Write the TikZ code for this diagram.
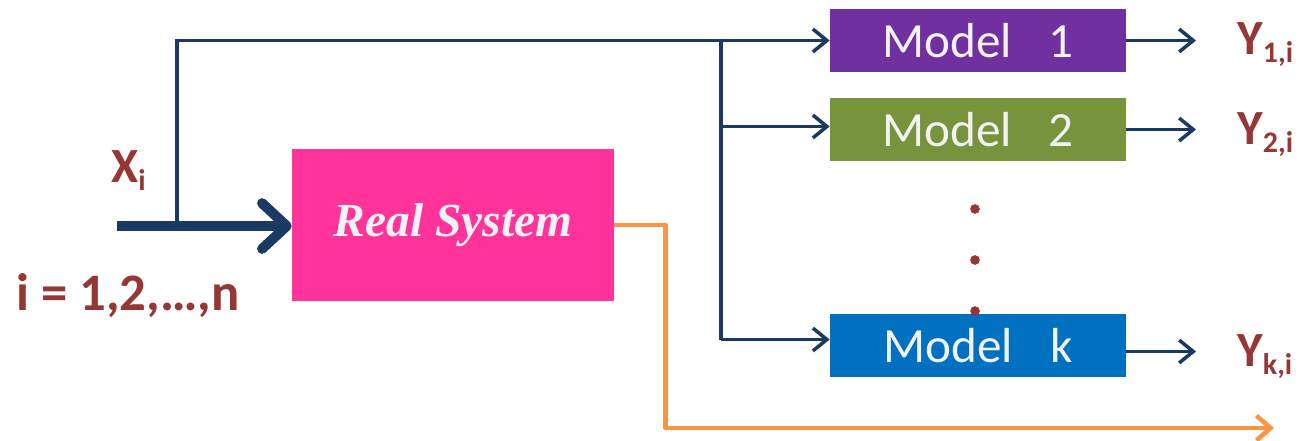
\documentclass[tikz,border=0pt]{standalone}
\usepackage{fontspec}
\setmainfont{Carlito}
\newfontfamily\rsfont{Liberation Serif}
\usetikzlibrary{arrows.meta,calc}
\definecolor{navy}{HTML}{1B3A63}
\definecolor{dred}{HTML}{953735}
\definecolor{orng}{HTML}{F79646}
\definecolor{pnk}{HTML}{FF3399}
\definecolor{purp}{HTML}{7030A0}
\definecolor{grn}{HTML}{77933C}
\definecolor{blu}{HTML}{0070C0}
\definecolor{offw}{HTML}{F2F2F2}
\tikzset{
  modelbox/.style={rectangle, minimum width=5.92cm, minimum height=1.26cm, inner sep=0pt,
    text=offw, font=\fontsize{28}{30}\selectfont},
  thinarrow/.style={draw=navy, line width=2pt, -{Straight Barb[length=8pt,width=13pt]}},
  thickarrow/.style={draw=navy, line width=5.7pt, -{Straight Barb[length=14pt,width=26pt,round]}},
  orngarrow/.style={draw=orng, line width=2.6pt, -{Straight Barb[length=8pt,width=14pt]}, line join=round},
  ylabel/.style={anchor=base west, inner sep=0pt, text=dred, font=\bfseries\fontsize{28}{30}\selectfont},
  dotmark/.style={circle, fill=dred, inner sep=0pt, minimum size=5.5pt},
}
\newcommand{\ysub}[1]{\raisebox{-5pt}{\fontsize{17}{17}\selectfont #1}}
\begin{document}
\begin{tikzpicture}[x=0.02cm, y=-0.02cm]
\useasboundingbox (0,0) rectangle (1300,440);
% boxes
\node[modelbox, fill=purp] (m1) at (978,40.5) {Model\hspace{0.75em}1};
\node[modelbox, fill=grn]  (m2) at (978,129.5) {Model\hspace{0.75em}2};
\node[modelbox, fill=blu]  (mk) at (978,345.5) {Model\hspace{0.75em}k};
\node[rectangle, fill=pnk, minimum width=6.44cm, minimum height=3.04cm, inner sep=0pt,
      text=offw, font=\rsfont\bfseries\itshape\fontsize{27}{30}\selectfont] (rs) at (453,225) {\raisebox{-4pt}{Real System}};
% dots
\node[dotmark] (d1) at (975,209) {};
\node[dotmark] (d2) at (975,260) {};
\node[dotmark] (d3) at (975,311) {};
% labels
\node[ylabel] (xi) at (111,182) {X\ysub{i}};
\node[ylabel, font=\bfseries\fontsize{30}{32}\selectfont] (irange) at (16,310) {i = 1,2,…,n};
\node[ylabel] (y1) at (1237,54) {Y\ysub{1,i}};
\node[ylabel] (y2) at (1237,144) {Y\ysub{2,i}};
\node[ylabel] (yk) at (1237,366) {Y\ysub{k,i}};
% coordinates
\coordinate (xin) at (117,226);
\coordinate (junc) at (177,226);
\coordinate (bus) at (721,41);
\coordinate (oend) at (1274,428);
% connectors
\draw[thickarrow] (xin) -- (rs.west |- xin);
\draw[thinarrow] (junc) |- (m1.west);
\draw[navy, line width=2pt] (bus |- m1.west) -- ($(bus |- mk.west)+(0,-6)$);
\draw[thinarrow] ($(bus |- m2.west)+(0,-3)$) -- ($(m2.west)+(0,-3)$);
\draw[thinarrow] ($(bus |- mk.west)+(0,-6)$) -- ($(mk.west)+(0,-6)$);
\draw[thinarrow, shorten >=0.82cm] (m1.east) -- (m1.east -| y1.west);
\draw[thinarrow, shorten >=0.82cm] (m2.east) -- (m2.east -| y2.west);
\draw[thinarrow, shorten >=0.82cm] ($(mk.east)+(0,6)$) -- ($(mk.east -| yk.west)+(0,6)$);
\draw[orngarrow] (rs.east) -- ++(51,0) |- (oend);
\end{tikzpicture}
\end{document}
